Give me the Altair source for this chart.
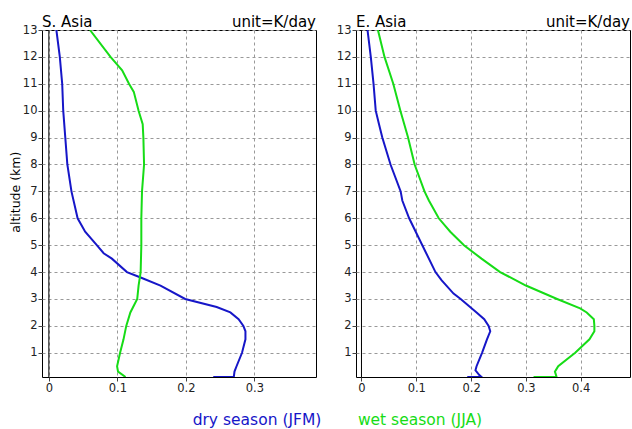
import altair as alt
import pandas as pd

# ---------------- data ----------------
seasons = ["dry season (JFM)", "wet season (JJA)"]
season_colors = ["#1616c8", "#16dc16"]
panel_names = ["S. Asia", "E. Asia"]
unit_label = "unit=K/day"
y_title = "altitude (km)"
y_ticks = list(range(1, 14))
x_ticks_sa = [0, 0.1, 0.2, 0.3]
x_ticks_ea = [0, 0.1, 0.2, 0.3, 0.4]
x_domain_sa = [-0.01, 0.39]
x_domain_ea = [-0.01, 0.49]
y_domain = [0.1, 13]

# S. Asia, dry season (JFM)
sa_dry_alt = [0.1, 0.1, 0.3, 0.5, 1.0, 1.5, 1.8, 2.0, 2.25, 2.5, 2.7, 3.0, 3.5, 3.8,
              4.0, 4.5, 4.7, 5.0, 5.5, 6.0, 7.0, 8.0, 9.0, 10.0, 11.0, 12.0, 13.0]
sa_dry_val = [0.240, 0.270, 0.271, 0.274, 0.282, 0.287, 0.287, 0.284, 0.277, 0.265, 0.245,
              0.199, 0.163, 0.134, 0.114, 0.092, 0.080, 0.070, 0.053, 0.042, 0.033, 0.027,
              0.024, 0.021, 0.0195, 0.016, 0.011]

# S. Asia, wet season (JJA)
sa_wet_alt = [0.1, 0.3, 0.5, 1.0, 1.5, 2.0, 2.5, 3.0, 3.5, 4.0, 5.0, 6.0, 7.0, 8.0,
              9.0, 9.5, 10.0, 10.7, 11.0, 11.5, 12.0, 13.0]
sa_wet_val = [0.112, 0.101, 0.0996, 0.104, 0.109, 0.113, 0.119, 0.129, 0.131, 0.134, 0.135,
              0.135, 0.136, 0.139, 0.138, 0.137, 0.131, 0.124, 0.117, 0.107, 0.090, 0.060]

# E. Asia, dry season (JFM)
ea_dry_alt = [0.1, 0.1, 0.17, 0.35, 0.5, 1.0, 1.5, 1.8, 2.0, 2.25, 2.5, 3.0, 3.2, 3.7,
              4.0, 5.0, 6.0, 6.66, 7.0, 8.0, 9.0, 9.5, 10.0, 11.0, 12.0, 13.0]
ea_dry_val = [0.193, 0.219, 0.215, 0.208, 0.210, 0.220, 0.229, 0.235, 0.232, 0.224, 0.210,
              0.181, 0.168, 0.146, 0.135, 0.111, 0.087, 0.0745, 0.0715, 0.053, 0.038, 0.032,
              0.026, 0.022, 0.017, 0.011]

# E. Asia, wet season (JJA)
ea_wet_alt = [0.1, 0.1, 0.17, 0.3, 0.5, 1.0, 1.5, 1.8, 2.0, 2.25, 2.5, 2.65, 3.0, 3.5,
              4.0, 4.5, 5.0, 5.5, 6.0, 6.66, 7.0, 8.0, 9.0, 10.0, 11.0, 12.0, 13.0]
ea_wet_val = [0.314, 0.356, 0.355, 0.353, 0.359, 0.390, 0.416, 0.425, 0.425, 0.424, 0.411,
              0.399, 0.357, 0.300, 0.253, 0.219, 0.187, 0.162, 0.141, 0.123, 0.115, 0.097,
              0.085, 0.071, 0.058, 0.042, 0.030]

# ---------------- styling ----------------
FONT = "DejaVu Sans"
W, H = 274, 347


def profile_frame(pairs):
    frames = []
    for alts, vals, season in pairs:
        frames.append(pd.DataFrame({"alt": alts, "val": vals, "season": season,
                                    "idx": list(range(len(alts)))}))
    return pd.concat(frames, ignore_index=True)


def one_row():
    return alt.Data(values=[{"k": 0}])


def panel(df, name, xdom, xticks, first):
    if first:
        y_axis = alt.Axis(values=y_ticks, title=y_title, titleX=-22.4, titleY=161.7,
                          titleAngle=270, titleBaseline="alphabetic", titleAnchor="middle")
    else:
        y_axis = alt.Axis(values=y_ticks, title=None)
    x_axis = alt.Axis(values=xticks, title=None,
                      labelExpr="datum.value == 0 ? '0' : format(datum.value, '.1f')")

    lines = alt.Chart(df).mark_line(strokeWidth=2, clip=True).encode(
        x=alt.X("val:Q", scale=alt.Scale(domain=xdom, nice=False, zero=False), axis=x_axis),
        y=alt.Y("alt:Q", scale=alt.Scale(domain=y_domain, nice=False, zero=False), axis=y_axis),
        color=alt.Color("season:N", scale=alt.Scale(domain=seasons, range=season_colors),
                        legend=None),
        detail="season:N",
        order="idx:Q",
    )
    zero = alt.Chart(one_row()).mark_rule(color="black", strokeWidth=1).encode(
        x=alt.datum(0)
    )
    t_left = alt.Chart(one_row()).mark_text(
        text=name, align="left", baseline="alphabetic", font=FONT, fontSize=15, color="black"
    ).encode(x=alt.value(0), y=alt.value(-2.6))
    t_right = alt.Chart(one_row()).mark_text(
        text=unit_label, align="right", baseline="alphabetic", font=FONT, fontSize=15,
        color="black"
    ).encode(x=alt.value(W), y=alt.value(-2.6))
    layers = [zero, lines, t_left, t_right]
    if first:
        leg_dry = alt.Chart(one_row()).mark_text(
            text=seasons[0], align="center", baseline="middle", font=FONT, fontSize=15.5,
            color=season_colors[0]
        ).encode(x=alt.value(215), y=alt.value(H + 43.3))
        leg_wet = alt.Chart(one_row()).mark_text(
            text=seasons[1], align="center", baseline="middle", font=FONT, fontSize=15.5,
            color=season_colors[1]
        ).encode(x=alt.value(378), y=alt.value(H + 43.3))
        layers += [leg_dry, leg_wet]
    return alt.layer(*layers).properties(width=W, height=H)


sa_df = profile_frame([(sa_dry_alt, sa_dry_val, seasons[0]),
                       (sa_wet_alt, sa_wet_val, seasons[1])])
ea_df = profile_frame([(ea_dry_alt, ea_dry_val, seasons[0]),
                       (ea_wet_alt, ea_wet_val, seasons[1])])

left = panel(sa_df, panel_names[0], x_domain_sa, x_ticks_sa, True)
right = panel(ea_df, panel_names[1], x_domain_ea, x_ticks_ea, False)

chart = alt.hconcat(left, right, spacing=40, bounds="flush").properties(
    padding={"left": 9, "top": 14, "right": 0, "bottom": 0},
    background="white",
).configure_view(
    stroke="black", strokeWidth=1
).configure_axis(
    labelFont=FONT, labelFontSize=11.5, labelColor="#222",
    tickColor="#444", tickSize=4, labelPadding=1, domain=False,
    grid=True, gridColor="#999", gridDash=[3, 3], gridWidth=1,
    titleFont=FONT, titleFontSize=12.5, titleFontWeight="normal", titleColor="black",
)

chart.save("out.html", embed_options={"renderer": "svg", "actions": False})
